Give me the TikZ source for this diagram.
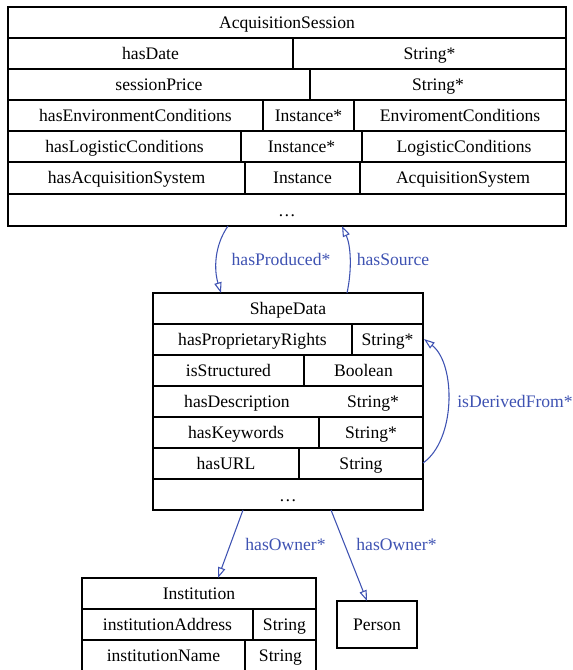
\documentclass[tikz,border=0pt]{standalone}
\usepackage{fontspec}
\setmainfont{Liberation Serif}
\usepackage{xcolor}
\usepackage{tikz}
\usetikzlibrary{arrows.meta}

\definecolor{edgeblue}{RGB}{62,82,178}
\tikzset{
  cell/.style={inner sep=0.75pt, text height=9.5pt, text depth=0.5pt, font=\fontsize{13.2}{15}\selectfont},
  rel/.style={draw=edgeblue, line width=0.8pt, -{Triangle[open,length=8pt,width=5.5pt]}},
  rellabel/.style={text=edgeblue, inner sep=0.75pt, text height=9.5pt, text depth=0.5pt, font=\fontsize{13.2}{15}\selectfont},
  box/.style={line width=0.9pt},
}

\begin{document}
\begin{tikzpicture}[x=0.75pt,y=0.75pt,yscale=-1,xscale=1]
\useasboundingbox (0,0) rectangle (572,670);

%Shape: Table [AcquisitionSession]
\draw [box] (8,7) rectangle (566,226);
\draw [box] (8,38) -- (566,38) (8,69) -- (566,69) (8,100) -- (566,100) (8,131) -- (566,131) (8,162) -- (566,162) (8,194) -- (566,194);
\draw [box] (293,38) -- (293,69) (310,69) -- (310,100) (263,100) -- (263,131) (354,100) -- (354,131);
\draw [box] (241,131) -- (241,162) (362,131) -- (362,162) (245,162) -- (245,194) (360,162) -- (360,194);

% Text Node
\node [cell] (acqTitle) at (287,22.5) {AcquisitionSession};
\node [cell] (acqDate) at (150.5,53.5) {hasDate};
\node [cell] (acqDateT) at (429.5,53.5) {String*};
\node [cell] (acqPrice) at (159,84.5) {sessionPrice};
\node [cell] (acqPriceT) at (438,84.5) {String*};
\node [cell] (acqEnv) at (135.5,115.5) {hasEnvironmentConditions};
\node [cell] (acqEnvT) at (308.5,115.5) {Instance*};
\node [cell] (acqEnvC) at (460,115.5) {EnviromentConditions};
\node [cell] (acqLog) at (124.5,146.5) {hasLogisticConditions};
\node [cell] (acqLogT) at (301.5,146.5) {Instance*};
\node [cell] (acqLogC) at (464,146.5) {LogisticConditions};
\node [cell] (acqSys) at (126.5,178) {hasAcquisitionSystem};
\node [cell] (acqSysT) at (302.5,178) {Instance};
\node [cell] (acqSysC) at (463,178) {AcquisitionSystem};
\node [cell] (acqMore) at (287,210) {\ldots};

%Shape: Table [ShapeData]
\draw [box] (153,293) rectangle (423,510);
\draw [box] (153,324) -- (423,324) (153,355) -- (423,355) (153,386) -- (423,386) (153,417) -- (423,417) (153,448) -- (423,448) (153,479) -- (423,479);
\draw [box] (352,324) -- (352,355) (304,355) -- (304,386) (319,417) -- (319,448) (299,448) -- (299,479);

% Text Node
\node [cell] (shpTitle) at (288,308.5) {ShapeData};
\node [cell] (shpRights) at (252.5,339.5) {hasProprietaryRights};
\node [cell] (shpRightsT) at (387.5,339.5) {String*};
\node [cell] (shpStruct) at (228.5,370.5) {isStructured};
\node [cell] (shpStructT) at (363.5,370.5) {Boolean};
\node [cell] (shpDesc) at (237,401.5) {hasDescription};
\node [cell] (shpDescT) at (373,401.5) {String*};
\node [cell] (shpKey) at (236,432.5) {hasKeywords};
\node [cell] (shpKeyT) at (371,432.5) {String*};
\node [cell] (shpUrl) at (226,463.5) {hasURL};
\node [cell] (shpUrlT) at (361,463.5) {String};
\node [cell] (shpMore) at (288,495) {\ldots};

%Shape: Table [Institution]
\draw [box] (82,670) -- (82,578) -- (316,578) -- (316,670);
\draw [box] (82,609) -- (316,609) (82,640) -- (316,640);
\draw [box] (253,609) -- (253,640) (245,640) -- (245,670);

% Text Node
\node [cell] (insTitle) at (199,593.5) {Institution};
\node [cell] (insAddr) at (167.5,624.5) {institutionAddress};
\node [cell] (insAddrT) at (284.5,624.5) {String};
\node [cell] (insName) at (163.5,655.5) {institutionName};
\node [cell] (insNameT) at (280.5,655.5) {String};

%Shape: Rectangle [Person]
\draw [box] (337,601) rectangle (417,648);
\node [cell] (person) at (377,624.5) {Person};

%Edge end points
\coordinate (acqOut) at (228,226);
\coordinate (acqIn) at (342,226);
\coordinate (shpIn) at (221,293);
\coordinate (shpOut) at (347,293);
\coordinate (urlOut) at (423,463);
\coordinate (rightsIn) at (424,339);
\coordinate (ownOutA) at (243,510);
\coordinate (ownOutB) at (331,510);
\coordinate (insIn) at (218,578);
\coordinate (personIn) at (367,601);

%Edges
\draw [rel] (acqOut) .. controls (214,246) and (214,270) .. (shpIn);
\draw [rel] (shpOut) .. controls (352,270) and (351,246) .. (acqIn);
\draw [rel] (urlOut) .. controls (456,440) and (456,364) .. (rightsIn);
\draw [rel] (ownOutA) -- (insIn);
\draw [rel] (ownOutB) -- (personIn);

% Text Node
\node [rellabel] (lblProduced) at (281,259) {hasProduced*};
\node [rellabel] (lblSource) at (393,259) {hasSource};
\node [rellabel] (lblDerived) at (515,401.5) {isDerivedFrom*};
\node [rellabel] (lblOwnerA) at (285.5,544) {hasOwner*};
\node [rellabel] (lblOwnerB) at (396.5,544) {hasOwner*};

\end{tikzpicture}
\end{document}
